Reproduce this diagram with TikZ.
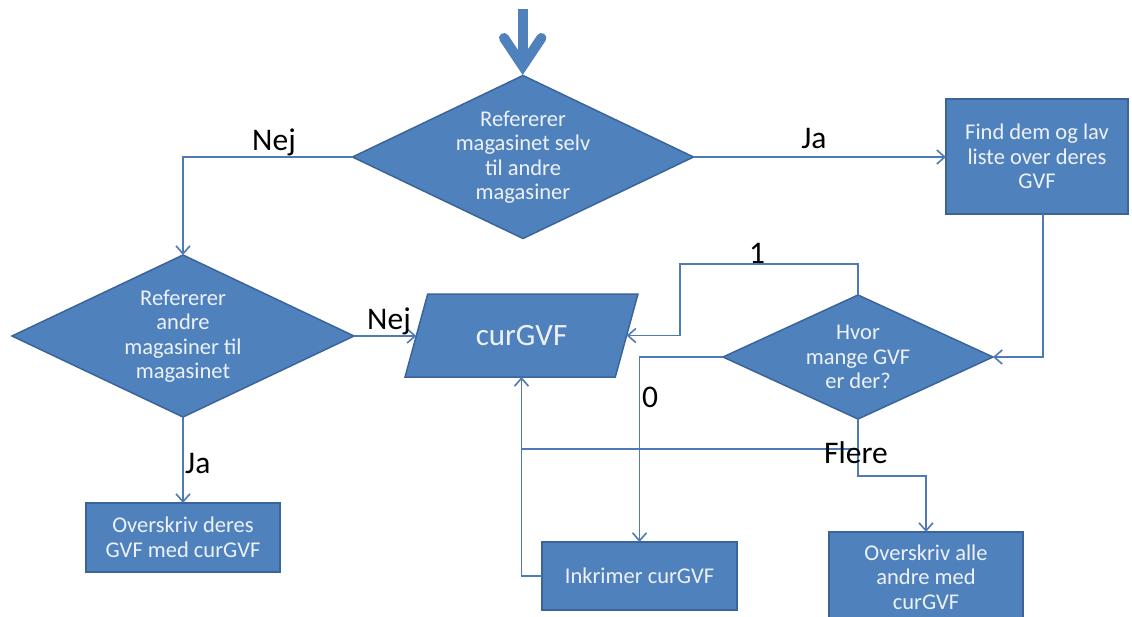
\documentclass[tikz,border=0pt]{standalone}
\usepackage{fontspec}
\setmainfont{Carlito}
\usetikzlibrary{shapes.geometric,arrows.meta,calc}
\definecolor{boxfill}{HTML}{4F81BD}
\definecolor{boxline}{HTML}{3B659A}
\definecolor{conn}{HTML}{4E7AB5}
\definecolor{boxtext}{HTML}{EEF2F8}
\tikzset{
  shapebase/.style={fill=boxfill, draw=boxline, line width=1.5pt, outer sep=0pt, inner sep=0pt},
  procbox/.style={shapebase, rectangle, text=boxtext, align=center,
    font=\fontsize{22.5}{24.5}\selectfont},
  decision/.style={shapebase, diamond},
  dtext/.style={text=boxtext, align=center, font=\fontsize{22.5}{24.5}\selectfont},
  conn/.style={draw=conn, line width=1.6pt},
  arr/.style={conn, -{Straight Barb[length=8pt,width=14pt,line width=1.6pt]}},
  lbl/.style={font=\fontsize{31.5}{34}\selectfont, text=black, inner sep=0pt, anchor=base}
}
\begin{document}
\begin{tikzpicture}[x=1pt,y=-1pt]
\useasboundingbox (0,0) rectangle (1132,616);
\fill[white] (0,0) rectangle (1132,616);

% top block arrow
\draw[boxfill, line width=10pt] (522.7,9) -- (522.7,62);
\draw[boxfill, line width=10pt, line cap=round, line join=miter] (504,38) -- (522.7,66) -- (541.4,38);

% decisions
\node[decision, minimum width=341, minimum height=163,
  label={[dtext]center:{Refererer\\magasinet selv\\til andre\\magasiner}}] (d1) at (523,157) {};
\node[decision, minimum width=342, minimum height=162,
  label={[dtext]center:{Refererer\\andre\\magasiner til\\magasinet}}] (d2) at (183,336) {};
\node[decision, minimum width=270, minimum height=124,
  label={[dtext]center:{Hvor\\mange GVF\\er der?}}] (d3) at (858,357) {};

% process boxes
\node[procbox, minimum width=182, minimum height=115] (r1) at (1037,156.5) {Find dem og lav\\liste over deres\\GVF};
\node[procbox, minimum width=194, minimum height=69] (ovd) at (183,537.5) {Overskriv deres\\GVF med curGVF};
\node[procbox, minimum width=195, minimum height=68] (ink) at (639.5,576) {Inkrimer curGVF};
\node[procbox, minimum width=194, minimum height=90] (ova) at (926,577) {Overskriv alle\\andre med\\curGVF};

% parallelogram
\node[shapebase, trapezium, trapezium left angle=61.5, trapezium right angle=118.5,
  trapezium stretches=true, minimum width=233, minimum height=83,
  text=boxtext, font=\fontsize{31}{33}\selectfont] (p) at (521.5,335.5) {curGVF};

% helper coordinates
\coordinate (c1) at (680,264);
\coordinate (c3) at (858,476);
\coordinate (c4) at (858,449);
\coordinate (c5) at (521.5,449);

% connectors
\draw[arr] (d1.west) -| (d2.north);
\draw[arr] (d1.east) -- (d1.east -| r1.west);
\draw[arr] (d2.east) -- (d2.east -| p.west);
\draw[arr] (d2.south) -- (ovd.north);
\draw[arr] ([xshift=6pt]r1.south) |- (d3.east);
\draw[arr] (d3.north) |- (c1) |- (p.east);
\draw[arr] (d3.west) -| (ink.north);
\draw[arr] (ink.west) -| (p.south);
\draw[arr] (d3.south) -- (c3) -| (ova.north);
\draw[conn] (c4) -- (c5);

% labels
\node[lbl] (lnej1) at (274,150) {Nej};
\node[lbl] (lja1) at (814,148) {Ja};
\node[lbl] (lnej2) at (389,329) {Nej};
\node[lbl, anchor=base west] (lja2) at (185,473) {Ja};
\node[lbl] (lone) at (757,263) {1};
\node[lbl] (lzero) at (650,407) {0};
\node[lbl] (lflere) at (856,463) {Flere};
\end{tikzpicture}
\end{document}
